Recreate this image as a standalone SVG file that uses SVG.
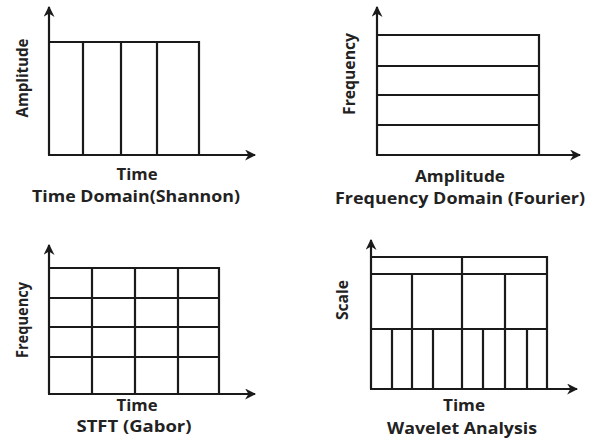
<svg xmlns="http://www.w3.org/2000/svg" width="597" height="445" viewBox="0 0 597 445">
  <defs>
    <marker id="arrow" viewBox="0 0 10 10" refX="9" refY="5" markerWidth="11" markerHeight="11" markerUnits="userSpaceOnUse" orient="auto">
      <path d="M0,0 L10,5 L0,10 L3,5 Z" fill="#1a1a1a"/>
    </marker>
  </defs>
  <style>
    .axis { stroke: #1a1a1a; stroke-width: 2.2; fill: none; marker-end: url(#arrow); }
    .cell { stroke: #1a1a1a; stroke-width: 2.2; fill: none; }
    .lbl { font-family: "Open Sans", "Liberation Sans", sans-serif; font-weight: bold; font-size: 15.5px; fill: #222; text-anchor: middle; }
  </style>
  <rect width="597" height="445" fill="#ffffff"/>

  <!-- Time domain -->
  <g id="time-domain">
    <path class="cell" d="M49,42 H199 V154 M83,42 V154 M121,42 V154 M157,42 V154"/>
    <text class="lbl" x="137" y="180" textLength="41" lengthAdjust="spacingAndGlyphs">Time</text>
    <text class="lbl" x="136" y="202" textLength="208" lengthAdjust="spacingAndGlyphs">Time Domain(Shannon)</text>
    <text class="lbl" transform="translate(28,78) rotate(-90)" textLength="79" lengthAdjust="spacingAndGlyphs">Amplitude</text>
  </g>

  <!-- Frequency domain -->
  <g id="frequency-domain">
    <path class="cell" d="M377,35 H539 V154 M377,66 H539 M377,95 H539 M377,125 H539"/>
    <text class="lbl" x="460" y="182" textLength="90" lengthAdjust="spacingAndGlyphs">Amplitude</text>
    <text class="lbl" x="460" y="204" textLength="250" lengthAdjust="spacingAndGlyphs">Frequency Domain (Fourier)</text>
    <text class="lbl" transform="translate(355,74) rotate(-90)" textLength="82" lengthAdjust="spacingAndGlyphs">Frequency</text>
  </g>

  <!-- STFT -->
  <g id="stft">
    <path class="cell" d="M49,268 H219 V393 M49,298 H219 M49,327 H219 M49,357 H219 M92,268 V393 M135,268 V393 M178,268 V393"/>
    <text class="lbl" x="137" y="411" textLength="41" lengthAdjust="spacingAndGlyphs">Time</text>
    <text class="lbl" x="134" y="432" textLength="115" lengthAdjust="spacingAndGlyphs">STFT (Gabor)</text>
    <text class="lbl" transform="translate(28,320) rotate(-90)" textLength="76" lengthAdjust="spacingAndGlyphs">Frequency</text>
  </g>

  <!-- Wavelet -->
  <g id="wavelet">
    <path class="cell" d="M371,257 H547 V388 M371,274 H547 M371,329 H547 M462,257 V388 M412,274 V388 M505,274 V388 M392,329 V388 M433,329 V388 M483,329 V388 M527,329 V388"/>
    <text class="lbl" x="464" y="411" textLength="42" lengthAdjust="spacingAndGlyphs">Time</text>
    <text class="lbl" x="462" y="434" textLength="150" lengthAdjust="spacingAndGlyphs">Wavelet Analysis</text>
    <text class="lbl" transform="translate(348,300) rotate(-90)" textLength="40" lengthAdjust="spacingAndGlyphs">Scale</text>
  </g>

  <!-- axes -->
  <g id="connectors">
    <path class="axis" d="M49,155 V7"/>
    <path class="axis" d="M48,155 H255"/>
    <path class="axis" d="M377,155 V7"/>
    <path class="axis" d="M376,155 H580"/>
    <path class="axis" d="M49,394 V245"/>
    <path class="axis" d="M48,394 H255"/>
    <path class="axis" d="M371,389 V240"/>
    <path class="axis" d="M370,389 H577"/>
  </g>
</svg>
